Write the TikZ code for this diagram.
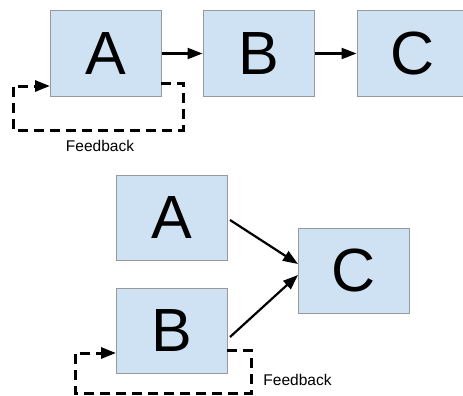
\documentclass[tikz,border=0pt]{standalone}
\usepackage{fontspec}
\setmainfont{Liberation Sans}
\usetikzlibrary{arrows.meta}
\definecolor{boxfill}{HTML}{CFE2F3}
\definecolor{boxline}{HTML}{999999}
\tikzset{
  blk/.style={draw=boxline, fill=boxfill, line width=1pt, minimum width=111pt, minimum height=85pt, inner sep=0pt, font=\fontsize{61}{61}\selectfont},
  conn/.style={line width=2.2pt, -{Triangle[length=15pt,width=11pt]}},
  fb/.style={line width=3pt, dash pattern=on 10pt off 6pt, -{Triangle[length=15pt,width=11pt]}},
  lbl/.style={font=\fontsize{15.5}{15.5}\selectfont, inner sep=0pt}
}
\begin{document}
\begin{tikzpicture}[x=1pt,y=-1pt]
\useasboundingbox (0,0) rectangle (463,396);
\clip (0,0) rectangle (463,396);
% top row
\node[blk] (tA) at (105.5,53.5) {A};
\node[blk] (tB) at (258.5,53.5) {B};
\node[blk] (tC) at (412.5,53.5) {C};
\draw[conn] (tA.east) -- (tB.west);
\draw[conn] (tB.east) -- (tC.west);
\coordinate (t1) at (161,83);
\coordinate (t2) at (183,83);
\coordinate (t3) at (183,130);
\coordinate (t4) at (13,130);
\coordinate (t5) at (13,86);
\coordinate (t6) at (50,86);
\draw[fb] (t1) -- (t2) -- (t3) -- (t4) -- (t5) -- (t6);
\node[lbl] (tF) at (100,146) {Feedback};
% bottom
\node[blk] (bA) at (171.5,218) {A};
\node[blk] (bB) at (171.5,331) {B};
\node[blk] (bC) at (354,270.5) {C};
\coordinate (a1) at (230,220);
\coordinate (c1) at (298,264);
\coordinate (b1) at (230,337);
\coordinate (c2) at (298,275);
\draw[conn] (a1) -- (c1);
\draw[conn] (b1) -- (c2);
\coordinate (s1) at (227,350);
\coordinate (s2) at (251,350);
\coordinate (s3) at (251,393);
\coordinate (s4) at (75,393);
\coordinate (s5) at (75,353);
\coordinate (s6) at (116,353);
\draw[fb] (s1) -- (s2) -- (s3) -- (s4) -- (s5) -- (s6);
\node[lbl] (bF) at (297.5,380) {Feedback};
\end{tikzpicture}
\end{document}
